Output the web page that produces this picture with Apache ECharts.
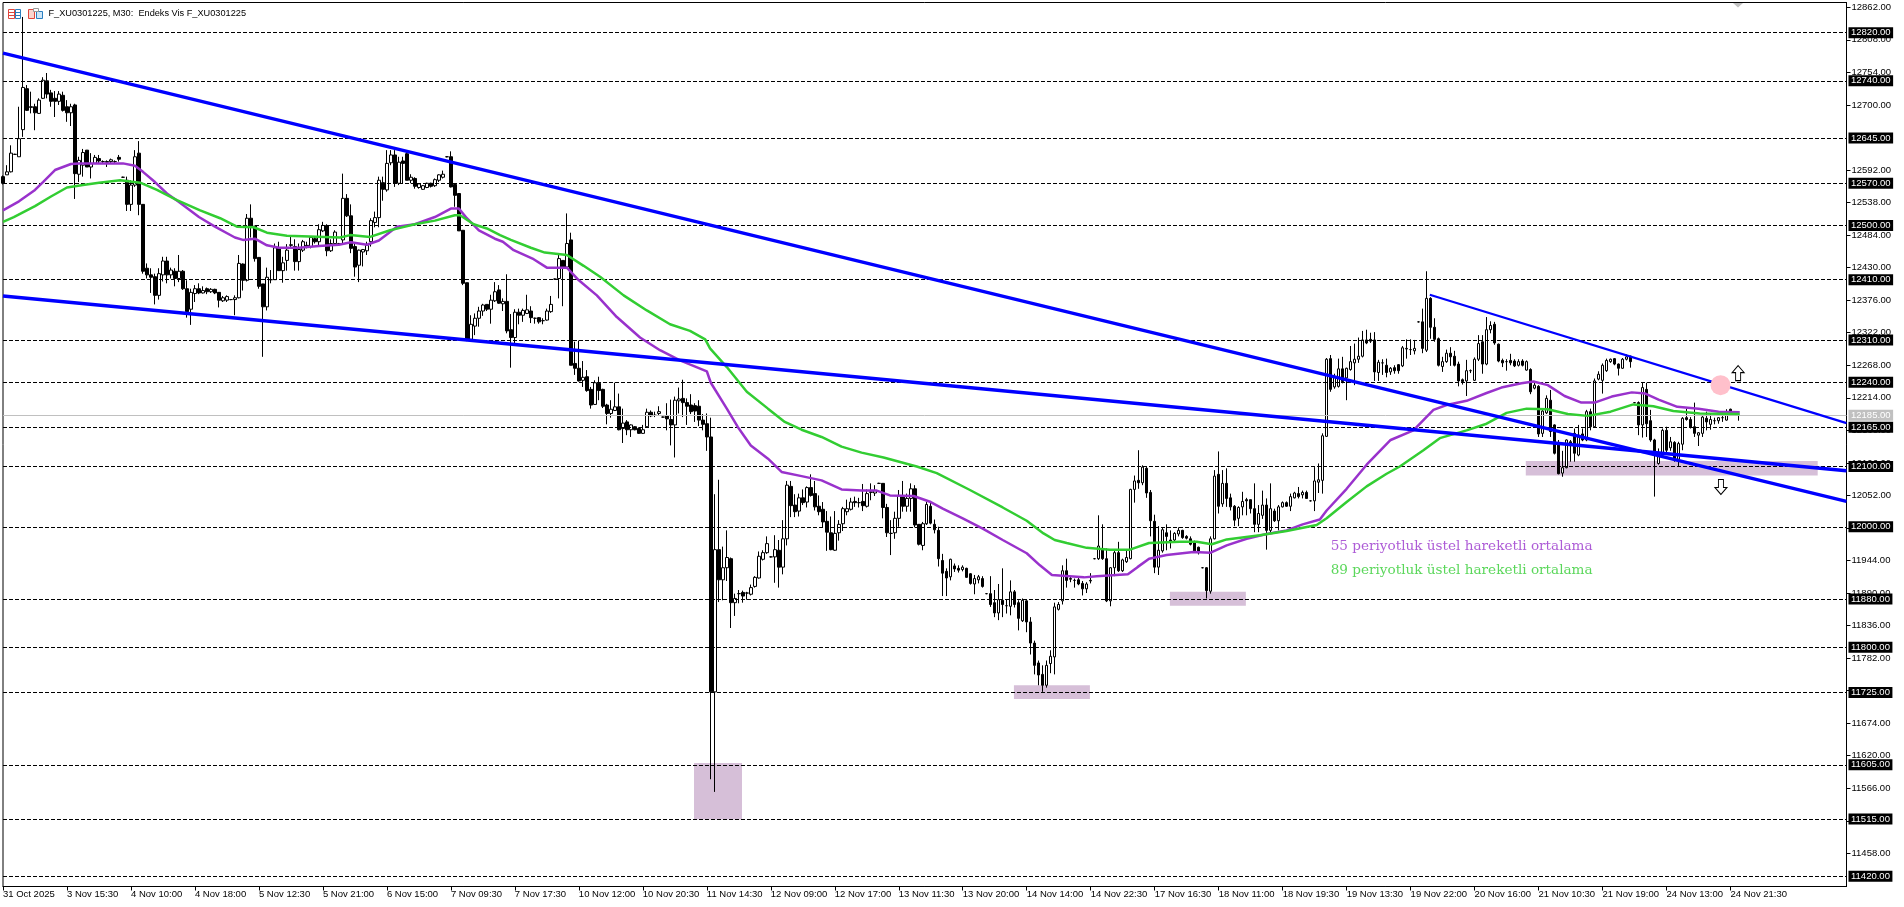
<!DOCTYPE html>
<html>
<head>
  <meta charset="UTF-8">
  <title>F_XU0301225, M30</title>
  <script src="https://cdn.jsdelivr.net/npm/echarts@6/dist/echarts.min.js"></script>
  <style>html,body{margin:0;padding:0;background:#fff}</style>
</head>
<body>
  <div id="main" style="width:1904px;height:907px;"></div>
  <script>
    // one x axis label every 16 bars
    const timeLabels = ['31 Oct 2025', '3 Nov 15:30', '4 Nov 10:00', '4 Nov 18:00', '5 Nov 12:30', '5 Nov 21:00', '6 Nov 15:00',
      '7 Nov 09:30', '7 Nov 17:30', '10 Nov 12:00', '10 Nov 20:30', '11 Nov 14:30', '12 Nov 09:00', '12 Nov 17:00',
      '13 Nov 11:30', '13 Nov 20:00', '14 Nov 14:00', '14 Nov 22:30', '17 Nov 16:30', '18 Nov 11:00', '18 Nov 19:30',
      '19 Nov 13:30', '19 Nov 22:00', '20 Nov 16:00', '21 Nov 10:30', '21 Nov 19:00', '24 Nov 13:00', '24 Nov 21:30'];

    const priceTicks = [12862, 12808, 12754, 12700, 12592, 12538, 12484, 12430, 12376, 12322, 12268, 12214, 12160, 12106,
      12052, 11998, 11944, 11890, 11836, 11782, 11728, 11674, 11620, 11566, 11512, 11458];

    const levels = [12820, 12740, 12645, 12570, 12500, 12410, 12310, 12240, 12165, 12100, 12000, 11880, 11800, 11725, 11605, 11515, 11420];
    const lastPrice = 12185;

    // open, close, low, high
    const candles = [
      [12581,12570,12568,12583],[12584,12589,12584,12600],[12589,12620,12588,12633],[12618,12618,12617,12619],[12614,12644,12614,12697],
      [12659,12729,12647,12846],[12727,12691,12690,12733],[12697,12696,12686,12722],[12697,12687,12658,12702],[12686,12708,12685,12711],
      [12711,12741,12710,12746],[12740,12718,12711,12753],[12720,12706,12697,12725],[12711,12706,12680,12723],[12706,12718,12700,12723],
      [12716,12691,12689,12722],[12697,12687,12672,12708],[12687,12697,12665,12702],[12700,12586,12544,12702],[12585,12608,12572,12614],
      [12600,12621,12581,12627],[12625,12597,12597,12625],[12597,12603,12578,12620],[12603,12613,12602,12617],[12611,12607,12603,12617],
      [12606,12606,12603,12608],[12606,12605,12597,12608],[12606,12609,12603,12611],[12606,12606,12603,12608],[12613,12610,12606,12617],
      [12580,12580,12579,12581],[12575,12535,12524,12581],[12535,12567,12524,12575],[12567,12614,12564,12625],[12620,12535,12517,12640],
      [12535,12424,12420,12535],[12429,12418,12412,12437],[12418,12414,12388,12429],[12415,12384,12369,12420],[12384,12420,12377,12429],
      [12418,12441,12407,12448],[12441,12418,12404,12448],[12418,12426,12412,12430],[12424,12412,12399,12429],[12412,12424,12406,12451],
      [12424,12395,12393,12426],[12395,12357,12347,12409],[12361,12389,12335,12395],[12387,12395,12373,12401],[12395,12388,12386,12404],
      [12388,12392,12387,12399],[12395,12390,12386,12397],[12390,12394,12388,12396],[12394,12388,12386,12395],[12389,12376,12364,12389],
      [12375,12380,12373,12383],[12376,12382,12373,12384],[12377,12377,12376,12378],[12377,12380,12351,12384],[12380,12437,12379,12451],
      [12436,12409,12392,12437],[12409,12512,12407,12519],[12512,12499,12480,12535],[12499,12445,12440,12499],[12447,12399,12395,12447],
      [12403,12365,12282,12403],[12365,12414,12359,12430],[12410,12410,12404,12426],[12410,12463,12410,12470],[12463,12425,12425,12473],
      [12425,12438,12405,12448],[12442,12459,12425,12469],[12467,12468,12464,12484],[12465,12440,12425,12477],[12440,12460,12425,12470],
      [12459,12473,12456,12476],[12467,12465,12462,12473],[12465,12480,12462,12482],[12478,12473,12470,12482],[12473,12493,12465,12502],
      [12491,12500,12489,12506],[12500,12458,12449,12502],[12458,12470,12456,12477],[12470,12489,12467,12492],[12470,12470,12469,12471],
      [12476,12545,12470,12586],[12545,12516,12514,12552],[12516,12462,12454,12535],[12465,12431,12415,12470],[12434,12459,12406,12460],
      [12456,12460,12432,12461],[12458,12467,12451,12473],[12473,12508,12465,12512],[12505,12513,12497,12523],[12513,12575,12497,12581],
      [12571,12560,12541,12581],[12559,12603,12556,12625],[12604,12617,12600,12625],[12617,12570,12564,12625],[12570,12605,12567,12614],
      [12607,12603,12570,12614],[12619,12575,12575,12625],[12575,12580,12570,12585],[12578,12565,12561,12580],[12563,12569,12561,12570],
      [12560,12566,12559,12567],[12563,12570,12562,12571],[12570,12565,12563,12571],[12566,12576,12564,12578],[12575,12584,12572,12585],
      [12580,12585,12578,12591],[12614,12614,12613,12615],[12614,12564,12563,12623],[12568,12550,12531,12570],[12553,12491,12491,12553],
      [12492,12404,12401,12492],[12405,12311,12308,12405],[12311,12336,12308,12351],[12333,12346,12318,12354],[12346,12358,12332,12365],
      [12358,12368,12350,12370],[12369,12361,12358,12369],[12361,12376,12337,12385],[12375,12390,12373,12406],[12393,12371,12370,12401],
      [12370,12374,12358,12379],[12374,12325,12321,12419],[12327,12314,12264,12353],[12314,12356,12304,12361],[12356,12351,12336,12362],
      [12351,12359,12340,12362],[12354,12360,12353,12385],[12358,12347,12338,12366],[12346,12346,12337,12347],[12347,12340,12337,12348],
      [12342,12342,12336,12346],[12343,12358,12342,12362],[12357,12369,12355,12383],[12411,12411,12410,12412],[12412,12445,12379,12453],
      [12442,12431,12366,12442],[12431,12470,12428,12520],[12476,12268,12268,12488],[12271,12263,12252,12307],[12263,12242,12241,12309],
      [12243,12248,12232,12275],[12249,12226,12224,12260],[12228,12202,12196,12232],[12203,12239,12202,12243],[12238,12226,12210,12249],
      [12228,12200,12197,12229],[12202,12188,12170,12204],[12188,12195,12181,12210],[12193,12199,12192,12239],[12199,12161,12160,12221],
      [12163,12172,12139,12196],[12174,12161,12152,12177],[12161,12169,12149,12170],[12166,12161,12160,12167],[12163,12155,12154,12165],
      [12155,12161,12154,12169],[12166,12190,12165,12196],[12190,12184,12182,12193],[12185,12185,12182,12191],[12188,12191,12185,12200],
      [12182,12182,12181,12183],[12184,12179,12160,12205],[12178,12169,12135,12211],[12169,12210,12115,12216],[12209,12212,12188,12231],
      [12213,12206,12182,12244],[12206,12200,12169,12213],[12202,12191,12187,12220],[12201,12192,12174,12205],[12200,12177,12167,12210],
      [12177,12170,12160,12187],[12171,12149,12126,12188],[12149,11726,11581,12181],[11726,11962,11560,12054],[11962,11912,11875,12078],
      [11912,11932,11878,11967],[11932,11949,11910,11994],[11947,11874,11832,11949],[11874,11881,11852,11889],[11889,11889,11873,11895],
      [11891,11885,11874,11894],[11890,11890,11879,11892],[11888,11899,11886,11904],[11901,11916,11899,11918],[11915,11951,11914,11959],
      [11946,11957,11944,11961],[11957,11972,11955,11984],[11950,11950,11949,11951],[11950,11962,11907,11986],[11961,11933,11899,11978],
      [11933,11980,11921,12011],[11980,12069,11969,12076],[12067,12035,12016,12076],[12036,12025,12016,12054],[12026,12048,12017,12055],
      [12048,12040,12036,12062],[12041,12065,12032,12067],[12065,12052,12050,12087],[12055,12033,12027,12076],[12034,12025,12019,12052],
      [12029,12008,11999,12041],[12009,11991,11960,12026],[11990,11962,11961,12017],[11961,11989,11960,12026],[11990,12004,11977,12011],
      [12005,12030,11993,12033],[12025,12030,12019,12045],[12029,12041,12027,12048],[12042,12040,12033,12050],[12040,12040,12032,12048],
      [12042,12035,12026,12071],[12034,12055,12032,12062],[12057,12058,12044,12072],[12056,12060,12051,12069],[12072,12072,12071,12073],
      [12072,12032,12014,12072],[12032,11990,11983,12038],[11989,11989,11953,12011],[11990,12014,11980,12025],[12014,12052,12000,12061],
      [12050,12034,12025,12076],[12034,12047,12025,12055],[12047,12063,12025,12072],[12063,12003,11999,12069],[12004,11971,11969,12004],
      [11969,12005,11961,12008],[12005,12037,12003,12041],[12034,12006,12004,12041],[12004,11995,11989,12012],[11994,11947,11934,12000],
      [11944,11923,11885,11955],[11926,11915,11885,11931],[11917,11946,11911,11947],[11935,11930,11925,11939],[11931,11928,11924,11936],
      [11929,11933,11926,11936],[11931,11916,11915,11932],[11922,11906,11904,11923],[11905,11914,11888,11920],[11912,11917,11906,11920],
      [11914,11901,11899,11918],[11889,11889,11888,11890],[11889,11871,11867,11918],[11874,11857,11850,11895],[11857,11879,11845,11905],
      [11878,11871,11850,11931],[11869,11869,11856,11879],[11868,11892,11853,11911],[11892,11871,11866,11895],[11874,11848,11828,11878],
      [11844,11878,11842,11881],[11877,11842,11825,11878],[11842,11807,11788,11850],[11807,11770,11755,11811],[11774,11754,11737,11778],
      [11755,11737,11726,11770],[11737,11770,11733,11778],[11773,11785,11757,11795],[11784,11867,11755,11874],[11863,11871,11861,11875],
      [11877,11927,11871,11936],[11927,11911,11899,11947],[11914,11913,11908,11917],[11911,11911,11899,11914],[11912,11905,11903,11916],
      [11906,11897,11886,11910],[11897,11905,11890,11908],[11910,11911,11906,11923],[11947,11947,11946,11948],[11947,11968,11945,12019],
      [11962,11947,11945,12004],[11947,11877,11875,11964],[11877,11932,11868,11933],[11932,11957,11918,11961],[11957,11927,11925,11975],
      [11927,11945,11925,11947],[11942,11949,11940,11961],[11947,12062,11946,12063],[12062,12076,12040,12085],[12077,12073,12063,12127],
      [12073,12099,12069,12102],[12097,12056,12048,12099],[12057,12010,11984,12061],[12009,11933,11923,12020],[11933,11961,11920,12001],
      [11960,11995,11957,11999],[11990,11984,11961,12004],[11978,11975,11964,11994],[11978,11989,11975,11991],[11988,11994,11984,11999],
      [11994,11982,11980,11995],[11984,11981,11979,11986],[11980,11971,11969,11984],[11973,11959,11958,11977],[11966,11957,11954,11967],
      [11932,11932,11931,11933],[11932,11894,11881,11933],[11893,11980,11889,11984],[11980,12084,11979,12094],[12087,12034,12022,12125],
      [12038,12072,12033,12094],[12072,12047,12033,12097],[12048,12033,12027,12055],[12034,12011,12001,12036],[12014,12032,12001,12034],
      [12033,12042,12019,12058],[12045,12043,12019,12048],[12045,12030,12022,12045],[12030,12004,11991,12072],[12004,12022,11991,12036],
      [12019,12036,12013,12060],[12036,11994,11962,12047],[11994,12030,11990,12072],[12026,12010,12008,12030],[12010,12033,11994,12036],
      [12033,12040,12032,12042],[12040,12034,12033,12042],[12034,12050,12026,12055],[12048,12056,12047,12058],[12055,12050,12047,12066],
      [12053,12057,12047,12060],[12057,12047,12047,12060],[12043,12043,12042,12044],[12043,12076,12026,12099],[12074,12078,12056,12105],
      [12077,12151,12055,12155],[12150,12278,12149,12280],[12279,12228,12224,12285],[12232,12249,12229,12254],[12233,12262,12231,12279],
      [12262,12241,12238,12282],[12247,12263,12210,12264],[12261,12274,12259,12300],[12272,12278,12235,12304],[12278,12283,12272,12314],
      [12283,12310,12281,12325],[12310,12305,12303,12327],[12311,12308,12305,12322],[12310,12257,12242,12323],[12256,12273,12242,12277],
      [12272,12272,12252,12278],[12268,12256,12248,12279],[12257,12263,12252,12265],[12264,12259,12254,12268],[12269,12259,12254,12270],
      [12267,12297,12265,12300],[12295,12296,12279,12311],[12294,12294,12285,12311],[12292,12296,12286,12310],[12340,12340,12339,12341],
      [12340,12296,12288,12362],[12293,12379,12290,12424],[12379,12331,12312,12381],[12331,12311,12307,12346],[12312,12268,12266,12314],
      [12266,12274,12257,12282],[12274,12288,12272,12294],[12288,12282,12267,12298],[12283,12268,12266,12292],[12270,12242,12233,12274],
      [12244,12241,12236,12246],[12242,12259,12217,12277],[12259,12259,12255,12261],[12243,12278,12242,12281],[12278,12304,12275,12318],
      [12307,12270,12254,12318],[12270,12327,12268,12348],[12327,12334,12321,12341],[12336,12305,12302,12340],[12303,12275,12273,12304],
      [12276,12272,12265,12279],[12274,12274,12259,12278],[12276,12272,12268,12287],[12275,12267,12265,12278],[12268,12274,12266,12278],
      [12275,12268,12266,12278],[12260,12274,12259,12276],[12261,12224,12220,12263],[12230,12235,12228,12242],[12233,12154,12149,12235],
      [12155,12192,12149,12195],[12189,12213,12187,12218],[12210,12158,12149,12227],[12169,12122,12120,12170],[12139,12088,12087,12144],
      [12089,12098,12083,12126],[12098,12144,12097,12145],[12141,12137,12108,12144],[12155,12122,12108,12163],[12119,12152,12117,12169],
      [12154,12144,12142,12163],[12144,12191,12142,12194],[12191,12166,12160,12196],[12166,12242,12165,12246],[12245,12253,12243,12258],
      [12243,12268,12221,12271],[12259,12276,12257,12279],[12274,12278,12272,12279],[12279,12270,12268,12280],[12270,12263,12251,12271],
      [12263,12278,12262,12280],[12278,12282,12276,12286],[12283,12274,12264,12284],[12206,12206,12205,12207],[12206,12169,12152,12208],
      [12169,12231,12148,12239],[12228,12171,12149,12239],[12176,12144,12141,12194],[12144,12120,12050,12146],[12105,12121,12103,12130],
      [12119,12160,12116,12163],[12160,12127,12120,12166],[12131,12141,12126,12149],[12140,12112,12108,12142],[12112,12138,12100,12141],
      [12137,12180,12127,12182],[12181,12178,12176,12196],[12178,12165,12163,12182],[12166,12155,12149,12206],[12152,12156,12134,12157],
      [12155,12182,12149,12185],[12180,12174,12160,12191],[12170,12178,12161,12187],[12176,12176,12170,12181],[12176,12181,12171,12182],
      [12181,12181,12174,12185],[12177,12188,12176,12195],[12195,12188,12186,12196],[12188,12188,12186,12190],[12185,12185,12176,12187]
    ];

    // bar index, value
    const ema55 = [[0,12525],[4,12540],[8,12559],[10,12572],[13,12592],[17,12602],[19,12603],[24,12603],[30,12603],[33,12599],[35,12589],[38,12572],
      [41,12553],[44,12539],[49,12514],[53,12498],[58,12480],[60,12476],[63,12478],[66,12467],[69,12463],[74,12463],[79,12466],[84,12468],[87,12472],
      [91,12468],[94,12475],[98.5,12498],[103,12502],[108,12514],[112,12528],[114,12528],[116,12512],[119,12492],[123,12478],[125,12473],[127.7,12459],
      [132.7,12444],[136,12430],[141,12430],[144,12409],[148.5,12384],[153.5,12348],[159.3,12314],[164.3,12293],[169.3,12276],[176,12258],[177,12239],
      [181,12196],[183.7,12166],[187,12135],[191.3,12113],[194.7,12091],[199.7,12084],[204.7,12077],[209.7,12062],[214.7,12060],[218.5,12060],
      [221.8,12052],[227.7,12051],[232,12041],[235,12030],[240,12014],[245,11997],[250,11978],[256,11956],[259.3,11936],[262.3,11920],[270.3,11916],
      [273.5,11918],[281.3,11921],[283.7,11933],[286.6,11947],[291,11953],[297.7,11958],[302,11957],[306,11969],[311,11980],[316,11988],[321,11994],
      [325,12004],[329.3,12012],[331,12027],[336,12063],[341,12103],[347,12144],[352.7,12160],[357.7,12194],[361,12202],[366,12209],[371,12222],
      [374.7,12231],[379.7,12238],[382.7,12241],[386.3,12235],[390.5,12217],[394.7,12206],[398,12206],[402.3,12216],[407.3,12223],[410.7,12221],
      [414,12211],[418.7,12199],[424,12196],[429,12191],[434.3,12190]];

    const ema89 = [[0,12506],[2.7,12514],[8,12532],[12,12548],[16,12563],[20,12567],[24,12571],[29.3,12575],[34.3,12571],[38.5,12559],[43.5,12542],
      [49.3,12525],[54.3,12512],[58.5,12498],[62.7,12497],[66,12488],[71,12483],[84.3,12480],[86.8,12484],[91.8,12481],[96.8,12492],[99.3,12496],
      [103,12502],[108,12508],[113,12517],[114.3,12517],[117.7,12502],[121,12495],[124.3,12484],[127,12476],[132,12463],[135.5,12455],[141,12451],
      [145.2,12433],[149.3,12415],[155.2,12384],[161,12359],[166.8,12336],[171.8,12325],[175.6,12311],[176.8,12296],[181,12265],[186,12224],[191.3,12196],
      [195.5,12174],[199.7,12161],[204.7,12149],[209.7,12133],[214.7,12123],[220.2,12115],[228.5,12100],[233.5,12089],[241.8,12061],[250,12032],
      [256,12010],[260.2,11989],[263,11978],[266,11973],[271,11965],[276.8,11962],[281.8,11962],[286.6,11973],[294.3,11975],[298.5,11975],[302.3,11971],
      [306,11979],[314.3,11986],[321,11993],[328.5,12003],[331,12014],[336,12041],[341,12067],[346,12088],[349.3,12100],[355.2,12127],[359.3,12147],
      [366,12160],[371,12171],[376,12189],[381,12196],[386.3,12195],[391.3,12187],[396.3,12184],[402,12191],[407.7,12203],[412.7,12200],[417.7,12192],
      [424.3,12188],[434.3,12187]];

    const trendLines = [
      { from: [0, 12786], to: [461, 12042], width: 3.4 },
      { from: [0, 12383], to: [461, 12093], width: 3.4 },
      { from: [356.8, 12385], to: [461, 12172], width: 2.3 }
    ];

    // bar from, bar to, low, high
    const zones = [[172.8, 184.8, 11514, 11608], [252.8, 271.8, 11714, 11737], [291.8, 310.8, 11869, 11892], [380.8, 453.8, 12085, 12109]];

    const categories = [];
    for (let i = 0; i <= 461; ++i) {
      categories.push(i % 16 === 0 && timeLabels[i / 16] ? timeLabels[i / 16] : '');
    }

    const AXIS_FONT = 'Liberation Sans';
    const PURPLE = '#9932cc';
    const GREEN = '#32cd32';
    const BLUE = '#0000ff';
    const hasLabel = i => categories[i] !== '';

    const series = [
      {
        name: 'zones',
        type: 'line',
        xAxisIndex: 1,
        data: [],
        z: 1,
        markArea: {
          silent: true,
          itemStyle: { color: '#d6bfd8' },
          data: zones.map(z => [{ coord: [z[0], z[3]] }, { coord: [z[1], z[2]] }])
        }
      },
      {
        name: 'F_XU0301225',
        type: 'candlestick',
        data: candles,
        barWidth: 3,
        z: 3,
        itemStyle: {
          color: '#ffffff',
          color0: '#000000',
          borderColor: '#000000',
          borderColor0: '#000000',
          borderColorDoji: '#000000',
          borderWidth: 1
        }
      },
      {
        name: 'levels',
        type: 'line',
        xAxisIndex: 1,
        data: [],
        z: 6,
        markLine: {
          silent: true,
          symbol: 'none',
          animation: false,
          precision: 2,
          label: {
            position: 'end',
            distance: 2,
            formatter: p => Number(p.value).toFixed(2),
            color: '#ffffff',
            fontFamily: AXIS_FONT,
            fontSize: 9.5,
            padding: [1, 2.5, 0, 2.5],
            lineHeight: 10
          },
          data: levels.map(v => ({
            yAxis: v,
            lineStyle: { color: '#000000', type: [4, 2], width: 1 },
            label: { backgroundColor: '#000000' }
          })).concat([
            { yAxis: lastPrice, lineStyle: { color: '#c0c0c0', type: 'solid', width: 1 }, label: { backgroundColor: '#c0c0c0' } }
          ])
        }
      },
      {
        name: '55 EMA',
        type: 'line',
        xAxisIndex: 1,
        data: ema55,
        showSymbol: false,
        z: 7,
        lineStyle: { color: PURPLE, width: 2.5 }
      },
      {
        name: '89 EMA',
        type: 'line',
        xAxisIndex: 1,
        data: ema89,
        showSymbol: false,
        z: 7,
        lineStyle: { color: GREEN, width: 2.5 }
      }
    ];

    trendLines.forEach((t, i) => {
      series.push({
        name: 'trend' + i,
        type: 'line',
        xAxisIndex: 1,
        data: [t.from, t.to],
        showSymbol: false,
        z: 8,
        lineStyle: { color: BLUE, width: t.width }
      });
    });

    // marker circle, arrows and the two notes on the chart
    series.push({
      name: 'marker',
      type: 'scatter',
      xAxisIndex: 1,
      z: 9,
      data: [[429.5, 12235]],
      symbolSize: 20,
      itemStyle: { color: '#ffc0cb', opacity: 1 }
    });
    series.push({
      name: 'arrows',
      type: 'scatter',
      xAxisIndex: 1,
      z: 10,
      symbol: 'path://M6 0 L12 7 L8.5 7 L8.5 15 L3.5 15 L3.5 7 L0 7 Z',
      symbolSize: [12, 15],
      itemStyle: { color: '#ffffff', borderColor: '#000000', borderWidth: 1, opacity: 1 },
      data: [
        { value: [433.9, 12255] },
        { value: [429.6, 12066], symbolRotate: 180 }
      ]
    });
    series.push({
      name: 'notes',
      type: 'scatter',
      xAxisIndex: 1,
      z: 10,
      symbolSize: 0,
      data: [
        { value: [332, 11967], label: { formatter: '55 periyotluk üstel hareketli ortalama', color: PURPLE } },
        { value: [332, 11927], label: { formatter: '89 periyotluk üstel hareketli ortalama', color: GREEN } }
      ],
      label: { show: true, position: 'right', distance: 0, fontFamily: 'DejaVu Serif', fontSize: 13.6 }
    });

    const option = {
      animation: false,
      backgroundColor: '#ffffff',
      grid: { left: 2.5, top: 2.5, width: 1844, height: 884, show: true, borderColor: '#000000', borderWidth: 1, backgroundColor: '#ffffff', containLabel: false },
      xAxis: [
        {
          type: 'category',
          data: categories,
          boundaryGap: false,
          axisLine: { onZero: false, lineStyle: { color: '#000000' } },
          axisTick: { length: 4, interval: hasLabel, lineStyle: { color: '#000000' } },
          axisLabel: { interval: hasLabel, align: 'left', margin: 3, color: '#000000', fontFamily: AXIS_FONT, fontSize: 9.5, hideOverlap: false },
          splitLine: { show: false }
        },
        { type: 'value', min: 0, max: 461, show: false, splitLine: { show: false } }
      ],
      yAxis: {
        type: 'value',
        position: 'right',
        min: 11403,
        max: 12870,
        // the hidden x axis starts at 0, keep the price axis on the right
        axisLine: { show: true, onZero: false, lineStyle: { color: '#000000' } },
        axisTick: { show: true, length: 4, customValues: priceTicks, lineStyle: { color: '#000000' } },
        axisLabel: {
          customValues: priceTicks,
          margin: 5,
          color: '#000000',
          fontFamily: AXIS_FONT,
          fontSize: 9.5,
          formatter: v => v.toFixed(2)
        },
        splitLine: { show: false }
      },
      graphic: [
        { type: 'rect', shape: { x: 8.5, y: 9.5, width: 6, height: 9 }, style: { fill: '#fff', stroke: '#e0463c' } },
        { type: 'rect', shape: { x: 15.5, y: 9.5, width: 5, height: 9 }, style: { fill: '#fff', stroke: '#2a7fc0' } },
        { type: 'line', shape: { x1: 9, y1: 12.5, x2: 14, y2: 12.5 }, style: { stroke: '#e0463c' } },
        { type: 'line', shape: { x1: 9, y1: 15.5, x2: 14, y2: 15.5 }, style: { stroke: '#e0463c' } },
        { type: 'line', shape: { x1: 16, y1: 12.5, x2: 20, y2: 12.5 }, style: { stroke: '#2a7fc0' } },
        { type: 'line', shape: { x1: 16, y1: 15.5, x2: 20, y2: 15.5 }, style: { stroke: '#2a7fc0' } },
        { type: 'rect', shape: { x: 28.5, y: 9.5, width: 6, height: 9 }, style: { fill: '#fbd5cf', stroke: '#e0463c' } },
        { type: 'rect', shape: { x: 36.5, y: 11.5, width: 6, height: 7 }, style: { fill: '#cfe6f7', stroke: '#2a7fc0' } },
        { type: 'rect', shape: { x: 33.5, y: 8.5, width: 5, height: 3 }, style: { fill: '#fff', stroke: '#999999' } },
        { type: 'text', x: 48.5, y: 13.5, style: { text: 'F_XU0301225, M30:  Endeks Vis F_XU0301225', fill: '#000000', font: '9.2px "Liberation Sans"', verticalAlign: 'middle' } },
        { type: 'polygon', shape: { points: [[1733, 3], [1743, 3], [1738, 7.5]] }, style: { fill: '#c0c0c0' } }
      ],
      series
    };

    const chart = echarts.init(document.getElementById('main'));
    chart.setOption(option);
  </script>
</body>
</html>
